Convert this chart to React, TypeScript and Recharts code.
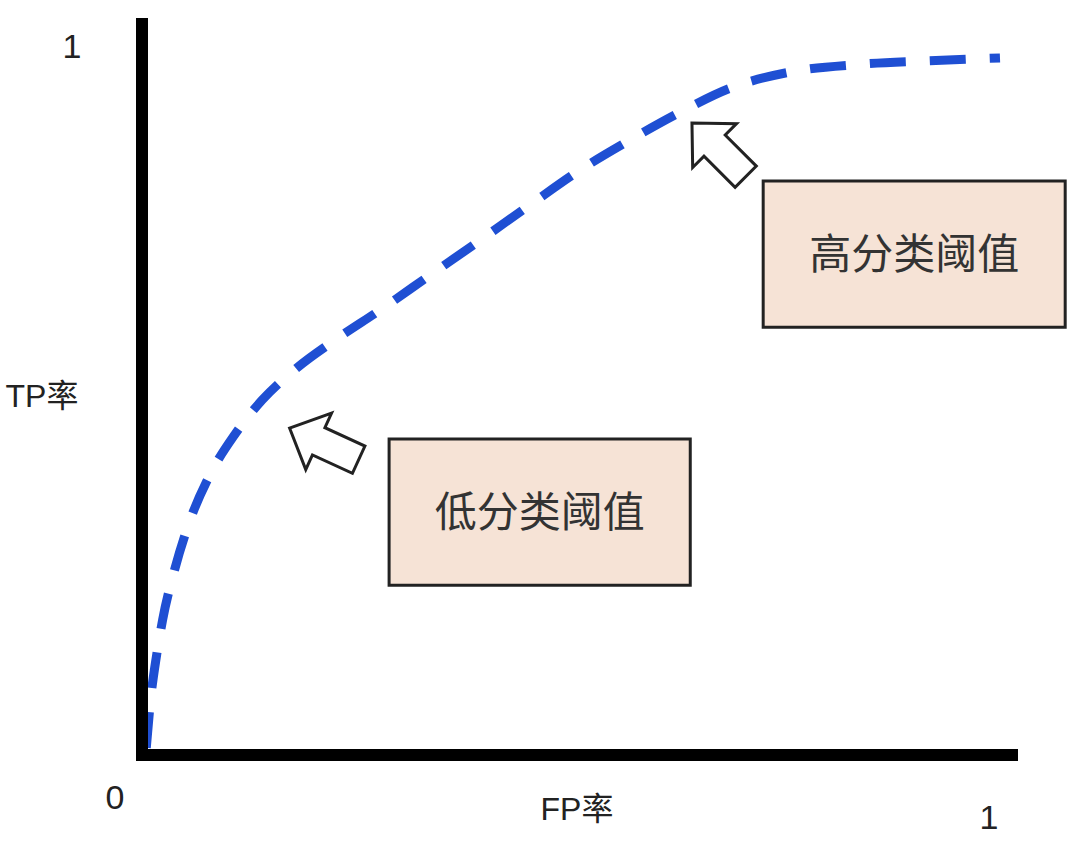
import {
  Label,
  Line,
  LineChart,
  ReferenceArea,
  ReferenceDot,
  XAxis,
  YAxis,
} from 'recharts';

// ROC curve (FP rate, TP rate)
const fpRate = [
  0.005, 0.01, 0.017, 0.024, 0.038, 0.056, 0.079, 0.108, 0.14, 0.178, 0.225, 0.277,
  0.336, 0.394, 0.452, 0.51, 0.569, 0.627, 0.685, 0.755, 0.837, 0.918, 1.0,
];
const tpRate = [
  0.01, 0.078, 0.141, 0.191, 0.262, 0.332, 0.396, 0.453, 0.502, 0.545, 0.587, 0.629,
  0.679, 0.728, 0.778, 0.827, 0.87, 0.909, 0.943, 0.966, 0.977, 0.982, 0.986,
];

const xTicks = [0, 1];
const yTicks = [1];

// annotation boxes: [x1, x2, y1, y2] in chart units
const boxLabels = ['高分类阈值', '低分类阈值'];
const boxX1 = [0.724, 0.288];
const boxX2 = [1.076, 0.639];
const boxY1 = [0.605, 0.24];
const boxY2 = [0.812, 0.447];

// arrow tips and direction (degrees, svg coords)
const arrowX = [0.641, 0.172];
const arrowY = [0.894, 0.4625];
const arrowAngle = [225, 204.6];

const data = fpRate.map((fp, i) => ({ fp, tp: tpRate[i] }));

const FONT = '"Liberation Sans", Arial, "Noto Sans CJK SC", sans-serif';
const TEXT = '#222';

function ArrowShape({ cx, cy, angle }: { cx?: number; cy?: number; angle: number }) {
  if (cx == null || cy == null) return null;
  const pts = '0,0 -32,-31 -32,-15 -76,-15 -76,15 -32,15 -32,31';
  return (
    <polygon
      points={pts}
      transform={`translate(${cx},${cy}) rotate(${angle})`}
      fill="#fff"
      stroke="#222"
      strokeWidth={3}
      strokeLinejoin="miter"
    />
  );
}

function XTick(props: any) {
  const { x, y, payload } = props;
  const isZero = payload.value === 0;
  return (
    <text
      x={isZero ? x - 27 : x - 11}
      y={isZero ? y + 34 : y + 54}
      textAnchor="middle"
      dominantBaseline="central"
      fontSize={34}
      fontFamily={FONT}
      fill={TEXT}
    >
      {payload.value}
    </text>
  );
}

function YTick(props: any) {
  const { y, payload } = props;
  return (
    <text x={72} y={y - 2} textAnchor="middle" dominantBaseline="central" fontSize={34} fontFamily={FONT} fill={TEXT}>
      {payload.value}
    </text>
  );
}

export default function App() {
  return (
    <div style={{ position: 'absolute', left: 0, top: 0, width: 1080, height: 842, background: '#fff' }}>
      <LineChart width={1080} height={842} data={data} margin={{ top: 24, right: 68, bottom: 27, left: 82 }}>
        <XAxis
          type="number"
          dataKey="fp"
          domain={[0, 1.014]}
          ticks={xTicks}
          tick={<XTick />}
          tickLine={false}
          height={60}
          axisLine={{ stroke: '#000', strokeWidth: 12, strokeLinecap: 'square' }}
        >
          <Label
            content={(p: any) => (
              <text
                x={p.viewBox.x + p.viewBox.width / 2}
                y={p.viewBox.y + 54}
                textAnchor="middle"
                dominantBaseline="central"
                fontSize={32}
                fontFamily={FONT}
                fill={TEXT}
              >
                FP率
              </text>
            )}
          />
        </XAxis>
        <YAxis
          type="number"
          domain={[0, 1.034]}
          ticks={yTicks}
          tick={<YTick />}
          tickLine={false}
          width={60}
          axisLine={{ stroke: '#000', strokeWidth: 12, strokeLinecap: 'square' }}
        >
          <Label
            content={(p: any) => (
              <text
                x={42}
                y={p.viewBox.y + p.viewBox.height / 2 + 6}
                textAnchor="middle"
                dominantBaseline="central"
                fontSize={32}
                fontFamily={FONT}
                fill={TEXT}
              >
                TP率
              </text>
            )}
          />
        </YAxis>
        <Line
          type="monotone"
          dataKey="tp"
          stroke="#1f4fd3"
          strokeWidth={9}
          strokeDasharray="36 24"
          dot={false}
          isAnimationActive={false}
        />
        {boxLabels.map((lab, i) => (
          <ReferenceArea
            key={lab}
            x1={boxX1[i]}
            x2={boxX2[i]}
            y1={boxY1[i]}
            y2={boxY2[i]}
            ifOverflow="visible"
            fill="#f6e3d6"
            fillOpacity={1}
            stroke="#222"
            strokeWidth={3}
          >
            <Label value={lab} position="center" fontSize={42} fontFamily={FONT} fill="#333" />
          </ReferenceArea>
        ))}
        {arrowX.map((ax, i) => (
          <ReferenceDot
            key={i}
            x={ax}
            y={arrowY[i]}
            ifOverflow="visible"
            shape={(p: any) => <ArrowShape cx={p.cx} cy={p.cy} angle={arrowAngle[i]} />}
          />
        ))}
      </LineChart>
    </div>
  );
}
